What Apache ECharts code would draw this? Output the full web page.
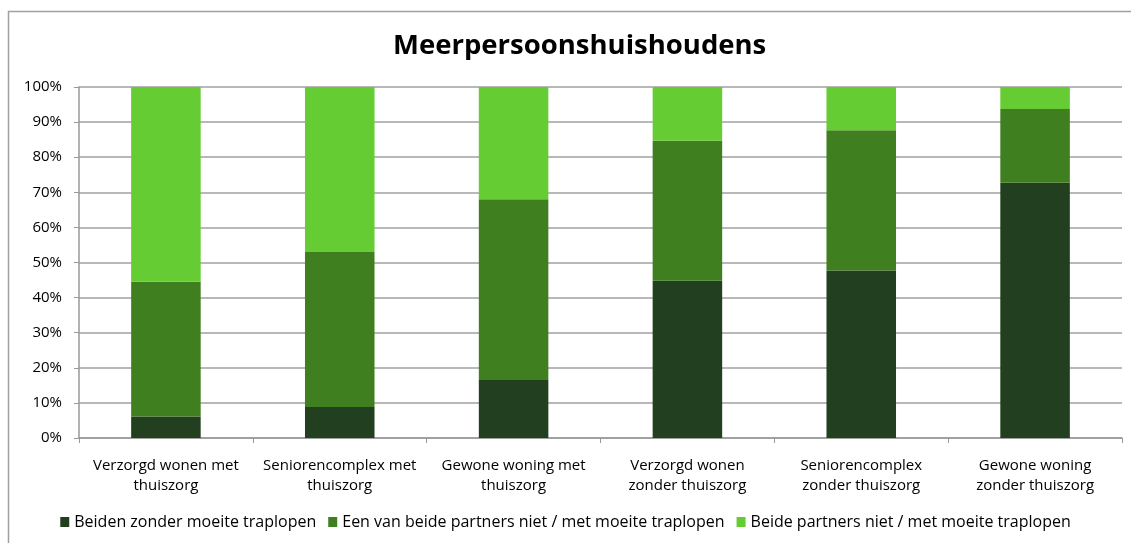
<!DOCTYPE html>
<html>
<head>
<meta charset="utf-8">
<script src="https://cdn.jsdelivr.net/npm/echarts@6/dist/echarts.min.js"></script>
<style>
  html, body { margin: 0; padding: 0; background: #fff; }
  #chart { width: 1131px; height: 543px; }
</style>
</head>
<body>
<div id="chart"></div>
<script>
// categorieën (x-as)
const categories = [
  'Verzorgd wonen met\nthuiszorg',
  'Seniorencomplex met\nthuiszorg',
  'Gewone woning met\nthuiszorg',
  'Verzorgd wonen\nzonder thuiszorg',
  'Seniorencomplex\nzonder thuiszorg',
  'Gewone woning\nzonder thuiszorg'
]
const seriesNames = [
  'Beiden zonder moeite traplopen',
  'Een van beide partners niet / met moeite traplopen',
  'Beide partners niet / met moeite traplopen'
]
// percentages per categorie
const beidenZonder = [6.1, 8.8, 16.5, 44.8, 47.7, 72.7]
const eenVanBeide = [38.4, 44.2, 51.5, 39.9, 40.0, 21.0]
const beideNiet = [55.5, 47.0, 32.0, 15.3, 12.3, 6.3]
const colors = ['#224020', '#407f20', '#66cc33']

const chart = echarts.init(document.getElementById('chart'))
const font = '"Open Sans", "DejaVu Sans", sans-serif'

const option = {
  animation: false,
  textStyle: { fontFamily: font },
  graphic: [{
    type: 'rect',
    shape: { x: 8.5, y: 11.5, width: 1300, height: 700 },
    style: { fill: 'none', stroke: '#a0a0a0', lineWidth: 1.5 },
    silent: true
  }],
  title: {
    text: 'Meerpersoonshuishoudens',
    left: 388,
    top: 27,
    textStyle: { fontSize: 27.5, fontWeight: 'bold', color: '#000', fontFamily: font }
  },
  legend: {
    bottom: 8,
    left: 'center',
    itemWidth: 9,
    itemHeight: 10,
    itemGap: 12,
    icon: 'rect',
    textStyle: { fontSize: 16, color: '#000', fontFamily: font },
    data: seriesNames
  },
  grid: { left: 79, right: 9, top: 87, bottom: 105, containLabel: false },
  xAxis: {
    type: 'category',
    data: categories,
    axisLine: { lineStyle: { color: '#999', width: 1.5 } },
    axisTick: { show: true, length: 5, lineStyle: { color: '#999' } },
    axisLabel: { fontSize: 15, color: '#000', lineHeight: 20, margin: 18, interval: 0 }
  },
  yAxis: {
    type: 'value',
    min: 0,
    max: 100,
    interval: 10,
    axisLine: { show: true, lineStyle: { color: '#999', width: 1.5 } },
    axisTick: { show: true, length: 5, lineStyle: { color: '#999' } },
    axisLabel: { fontSize: 15, color: '#000', formatter: '{value}%', margin: 17 },
    splitLine: { lineStyle: { color: '#a0a0a0', width: 1.5 } }
  },
  series: [
    { name: seriesNames[0], data: beidenZonder },
    { name: seriesNames[1], data: eenVanBeide },
    { name: seriesNames[2], data: beideNiet }
  ].map((s, i) => ({
    ...s,
    type: 'bar',
    stack: 'totaal',
    barWidth: '40%',
    itemStyle: { color: colors[i] }
  }))
}

chart.setOption(option)
</script>
</body>
</html>
